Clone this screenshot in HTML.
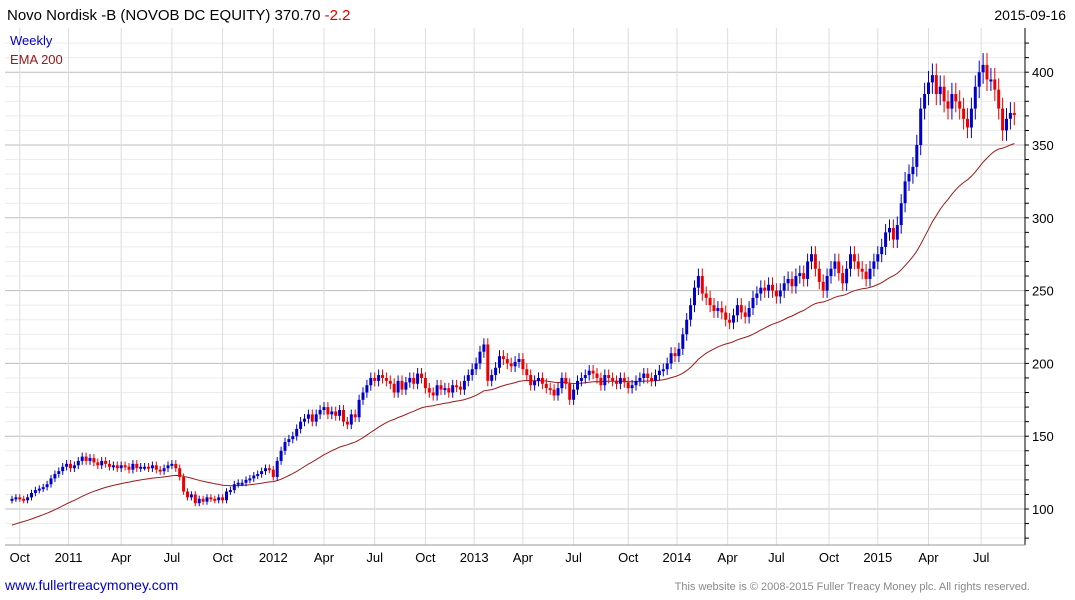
<!DOCTYPE html>
<html><head><meta charset="utf-8">
<style>
body{margin:0;background:#fff;font-family:"Liberation Sans",sans-serif;}
svg{display:block}
</style></head>
<body>
<svg id="chart" width="1075" height="600" xmlns="http://www.w3.org/2000/svg">
<rect x="0" y="0" width="1075" height="600" fill="#fff"/>
<g id="grid"></g>
<g id="ema"></g>
<g id="candles"></g>
<g id="axes"></g>
<text x="7" y="20" font-size="15" fill="#000">Novo Nordisk -B (NOVOB DC EQUITY) 370.70 <tspan fill="#e00000">-2.2</tspan></text>
<text x="1066" y="20" font-size="14" text-anchor="end" fill="#000">2015-09-16</text>
<text x="10" y="45" font-size="13" fill="#0000cc">Weekly</text>
<text x="10" y="64" font-size="13" fill="#a01818">EMA 200</text>
<text x="5" y="590" font-size="14" fill="#0000cc">www.fullertreacymoney.com</text>
<text x="1030" y="590" font-size="11" text-anchor="end" fill="#888">This website is © 2008-2015 Fuller Treacy Money plc. All rights reserved.</text>
</svg>
<script>
const closes=[107,108,107,106,108,111,113,114,115,117,121,124,126,129,131,
128,130,133,136,133,135,132,130,133,131,129,130,128,
130,129,127,131,128,129,129,128,130,127,126,128,130,
131,128,122,112,108,110,104,107,105,108,107,106,108,
106,112,113,117,118,118,120,121,123,124,126,128,127,
122,133,140,146,148,150,155,160,162,165,160,165,168,
170,165,167,164,168,160,158,165,163,175,180,185,190,
188,192,190,188,186,180,188,182,187,190,186,193,190,
183,180,178,185,182,183,180,185,184,182,188,192,196,
200,208,213,188,192,197,205,203,200,198,201,203,196,
192,185,188,190,186,183,182,178,183,190,186,175,182,
188,190,192,195,193,190,185,192,190,188,186,190,187,
183,185,188,190,193,190,188,192,195,196,200,207,205,
210,220,230,240,252,260,248,245,240,236,238,235,230,
228,233,240,235,232,238,245,248,252,250,254,250,246,
250,255,258,253,260,262,258,270,275,265,256,250,260,
265,270,262,255,265,275,270,265,263,258,265,270,275,
280,290,293,285,295,310,325,330,335,350,375,385,393,
398,385,390,380,375,385,380,375,368,362,375,390,400,
405,395,395,388,375,360,368,372,371];
const yTicks=[100,150,200,250,300,350,400];
const monthLabels=["Oct","2011","Apr","Jul","Oct","2012","Apr","Jul","Oct","2013","Apr","Jul","Oct","2014","Apr","Jul","Oct","2015","Apr","Jul"];
const monthWeeks=[2,14.5,28,41,54,67,80,93,106,118.5,131,144,158,170.5,183.5,196,209.5,222,235,248.5];
const emaSeed=88;

const NS="http://www.w3.org/2000/svg";
const X0=12,DX=3.9,PL=5,PR=1025,PT=28,PB=545;
const xs=i=>X0+i*DX;
const ys=v=>509-(v-100)*1.456;
function mk(tag,attrs,parent){const e=document.createElementNS(NS,tag);for(const k in attrs)e.setAttribute(k,attrs[k]);parent.appendChild(e);return e;}
const grid=document.getElementById('grid'),axes=document.getElementById('axes'),cg=document.getElementById('candles'),eg=document.getElementById('ema');

for(let v=80;v<=420;v+=10){const y=ys(v);if(y<PT||y>PB)continue;
 const l=mk('line',{x1:PL,x2:PR,y1:y,y2:y,stroke:v%50===0?'#bdbdbd':'#ececec','stroke-width':1},grid);
 
 
 const t=mk('line',{x1:PR,x2:PR+4,y1:y,y2:y,stroke:'#000'},axes);
 
 }
monthWeeks.forEach((w,i)=>{const x=xs(w);
 const l=mk('line',{x1:x,x2:x,y1:PT,y2:PB,stroke:'#dcdcdc','stroke-width':1},grid);
 
 
 const t=mk('text',{x:x,y:562,'font-size':13,'text-anchor':'middle',fill:'#000'},axes);t.textContent=monthLabels[i];
 
 });
const ax=mk('line',{x1:PR,x2:PR,y1:PT,y2:PB,stroke:'#000'},axes);


const bx=mk('line',{x1:PL,x2:PR,y1:PB,y2:PB,stroke:'#999'},axes);


yTicks.forEach(v=>{const t=mk('text',{x:1032,y:ys(v)+5,'font-size':13,fill:'#000'},axes);t.textContent=v;
 
 });

// EMA
let e=emaSeed,pts=[];const a=2/41;
closes.forEach((c,i)=>{e=e+a*(c-e);pts.push(xs(i).toFixed(1)+','+ys(e).toFixed(1));});
const pl=mk('polyline',{points:pts.join(' '),fill:'none',stroke:'#9a1c1c','stroke-width':1},eg);



// candles
closes.forEach((c,i)=>{const o=i?closes[i-1]:c-1;const up=c>=o;const col=up?'#0000cc':'#ee0000';
 const hi=Math.max(o,c)*1.02,lo=Math.min(o,c)*0.98;const x=xs(i);
 const g=mk('g',{},cg);
 
 
 mk('line',{x1:x,x2:x,y1:ys(hi),y2:ys(lo),stroke:col,'stroke-width':1},g);
 const top=ys(Math.max(o,c)),h=Math.max(2,ys(Math.min(o,c))-top);
 mk('rect',{x:x-1.5,y:top,width:3,height:h,fill:col},g);});
</script>
</body></html>
